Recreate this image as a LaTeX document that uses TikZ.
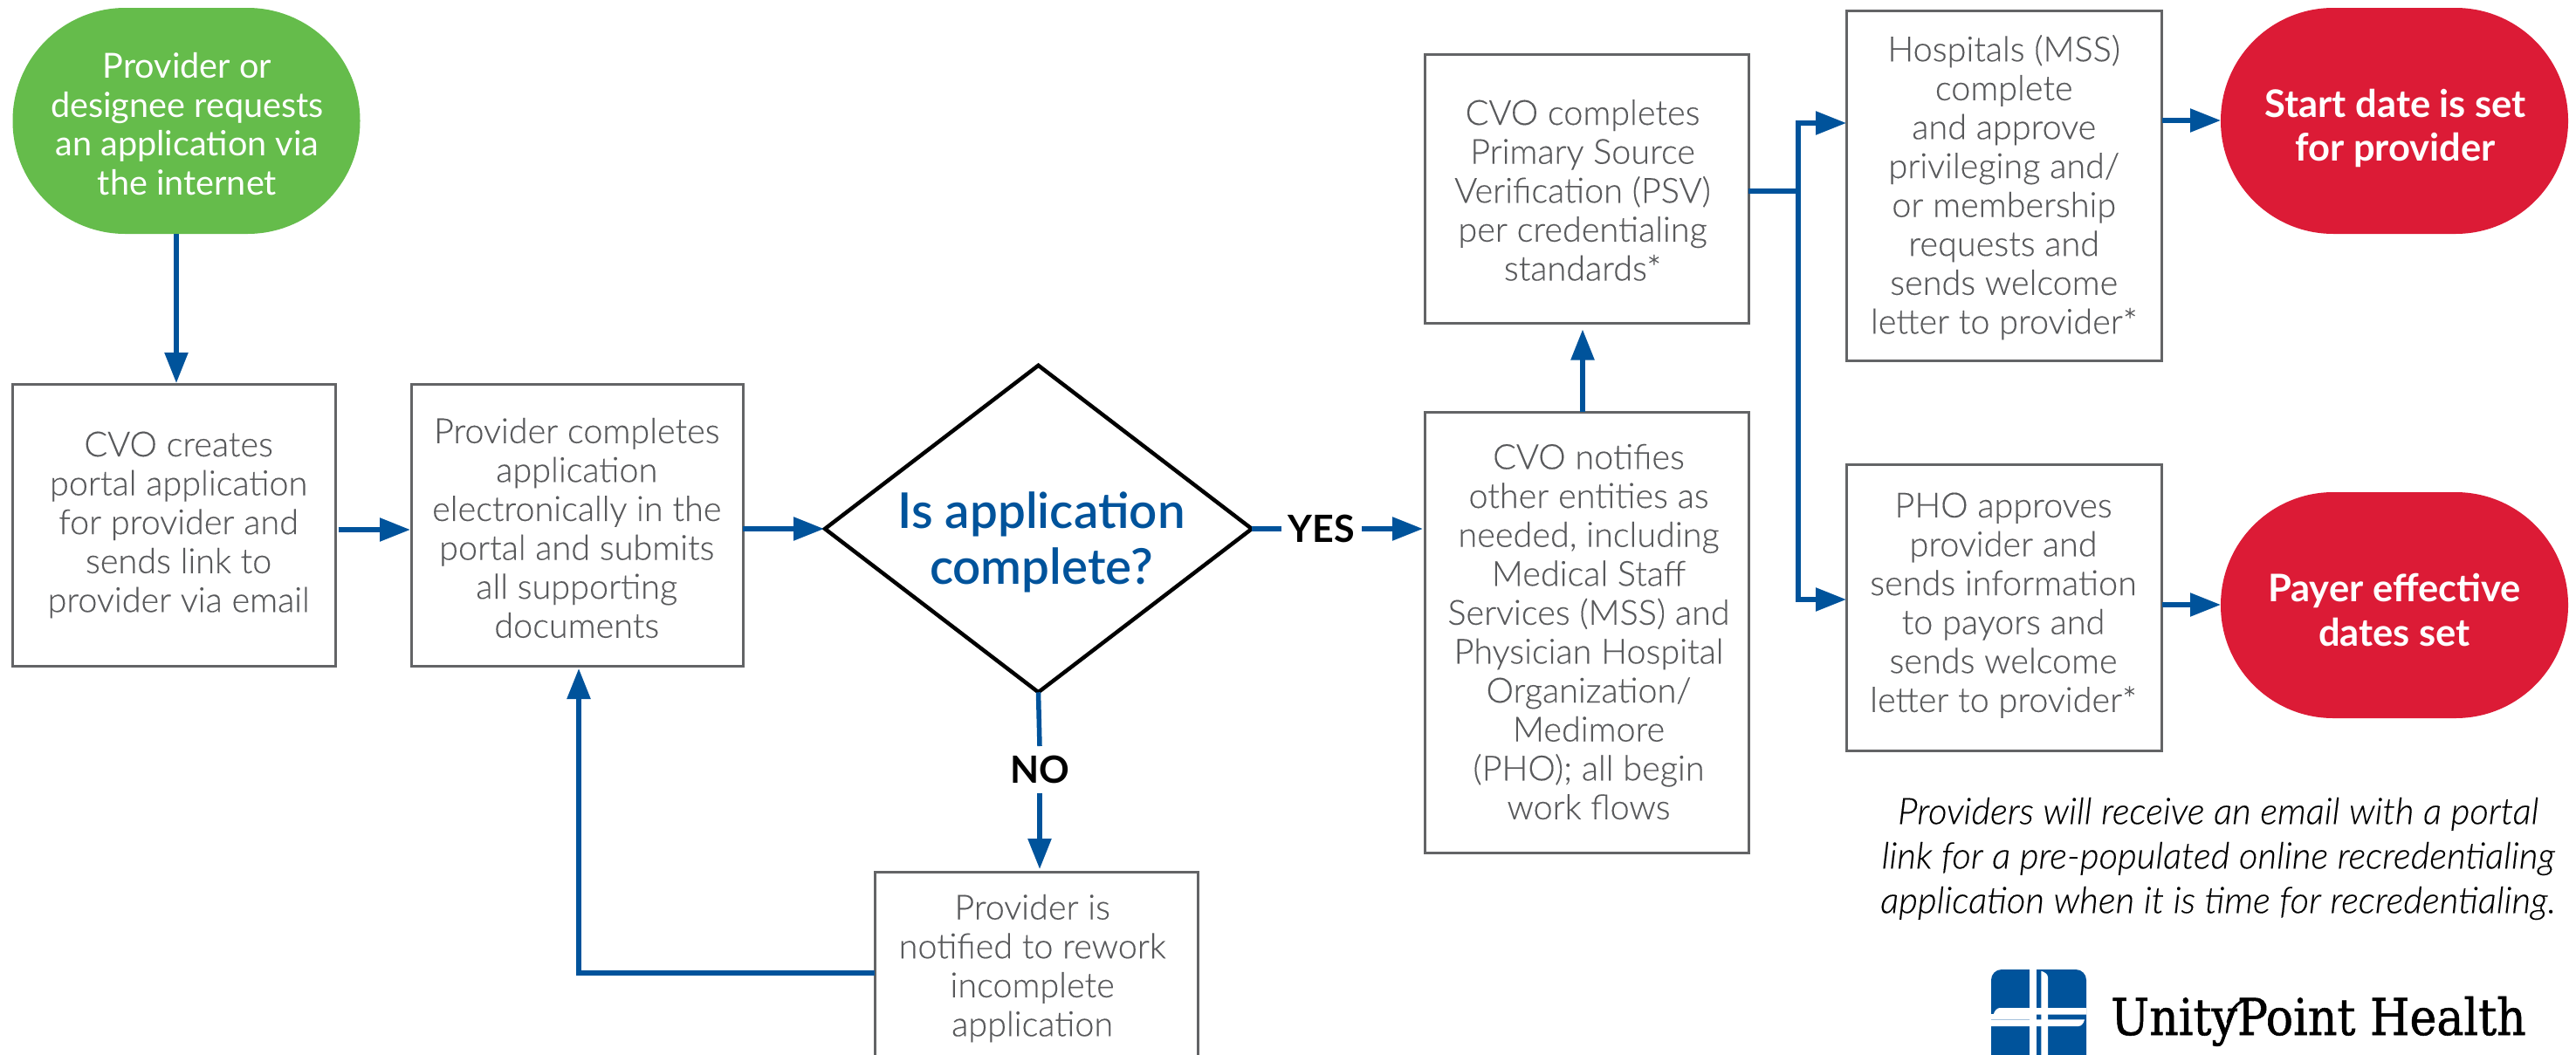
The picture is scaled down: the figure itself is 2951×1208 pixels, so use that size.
\documentclass[tikz,border=0pt]{standalone}
\usepackage{fontspec}
\setmainfont{Lato Light}[FakeBold=0.25]
\newfontfamily\medf{Lato}
\newfontfamily\boldf{Lato Bold}
\newfontfamily\semif{Lato Semibold}
\newfontfamily\italf{Lato Light Italic}[FakeBold=0.2]
\newfontfamily\logof{DejaVu Serif Condensed}[FakeBold=1.0]
\usetikzlibrary{arrows.meta,calc,shapes.geometric}
\definecolor{fblue}{HTML}{00539B}
\definecolor{fgray}{HTML}{58595B}
\definecolor{fline}{HTML}{636466}
\definecolor{fgreen}{HTML}{65BC4B}
\definecolor{fred}{HTML}{DC1B36}
\begin{document}
\begin{tikzpicture}[x=1pt,y=-1pt,
  bx/.style={draw=fline,line width=3pt,inner sep=0pt,outer sep=0pt},
  txt/.style={align=center,text=fgray,font=\fontsize{39.6}{44.6}\selectfont,inner sep=0pt},
  wht/.style={align=center,text=white,font=\medf\fontsize{39.6}{44.6}\selectfont,inner sep=0pt},
  hd/.style={align=center,text=white,font=\boldf\fontsize{43.5}{50.5}\selectfont,inner sep=0pt},
  dec/.style={text=black,font=\boldf\fontsize{43}{46}\selectfont,inner sep=0pt,outer sep=0pt},
  link/.style={draw=fblue,line width=5.5pt},
  arr/.style={link,-{Triangle[length=35pt,width=26pt]}},
  pill/.style={rounded corners=129pt,inner sep=0pt,outer sep=0pt,minimum width=398pt,minimum height=259pt}]
\useasboundingbox (0,0) rectangle (2951,1208);
\clip (0,0) rectangle (2951,1208);
\fill[white] (0,0) rectangle (2951,1208);
% terminals
\node[fill=fgreen,pill] (g) at (213.5,138.5) {};
\node[fill=fred,pill] (st) at (2743,138.5) {};
\node[fill=fred,pill] (pa) at (2743,693.5) {};
% process boxes
\node[bx,minimum width=370pt,minimum height=323pt] (b1) at (199.5,601.5) {};
\node[bx,minimum width=380pt,minimum height=323pt] (b2) at (661,601.5) {};
\node[bx,minimum width=370pt,minimum height=232pt] (rw) at (1187,1115) {};
\node[bx,minimum width=371pt,minimum height=505pt] (no) at (1817.5,724.5) {};
\node[bx,minimum width=371pt,minimum height=308.5pt] (ps) at (1817.5,216.25) {};
\node[bx,minimum width=361.5pt,minimum height=401pt] (ho) at (2296,212.5) {};
\node[bx,minimum width=361.5pt,minimum height=328pt] (ph) at (2296,696) {};
% decision
\node[diamond,draw=black,line width=4.5pt,inner sep=0pt,outer sep=0pt,minimum width=489pt,minimum height=374.5pt] (d) at (1189.5,606) {};
% texts
\node[wht] (gt) at (214.4,142) {Provider or\\designee requests\\an application via\\the internet};
\node[hd] (stt) at (2744,147) {Start date is set\\for provider};
\node[hd] (pat) at (2743,699) {Payer effective\\dates set};
\node[txt] (b1t) at (204.6,601.5) {CVO creates\\portal application\\for provider and\\sends link to\\provider via email};
\node[txt] (b2t) at (660.7,605) {Provider completes\\application\\electronically in the\\portal and submits\\all supporting\\documents};
\node[txt] (rwt) at (1182.6,1109.6) {Provider is\\notified to rework\\incomplete\\application};
\node[txt] (not) at (1820,724) {CVO notifies\\other entities as\\needed, including\\Medical Staff\\Services (MSS) and\\Physician Hospital\\Organization/\\Medimore\\(PHO); all begin\\work flows};
\node[txt] (pst) at (1813,218) {CVO completes\\Primary Source\\Verification (PSV)\\per credentialing\\standards*};
\node[txt] (hot) at (2295.7,214.7) {Hospitals (MSS)\\complete\\and approve\\privileging and/\\or membership\\requests and\\sends welcome\\letter to provider*};
\node[txt] (pht) at (2295,693.7) {PHO approves\\provider and\\sends information\\to payors and\\sends welcome\\letter to provider*};
\node[align=center,text=fblue,font=\semif\fontsize{56.5}{64}\selectfont,inner sep=0pt] (dt) at (1193,621) {Is application\\complete?};
\node[dec,minimum width=92pt] (yes) at (1514,606) {YES};
\node[dec,minimum height=54pt] (nn) at (1191,882) {NO};
\node[align=center,text=black,font=\italf\fontsize{42}{51}\selectfont,inner sep=0pt] (note) at (2541,984) {Providers will receive an email with a portal\\link for a pre-populated online recredentialing\\application when it is time for recredentialing.};
% connectors
\coordinate (c1) at (202,440);
\coordinate (c2) at (663,763);
\coordinate (c3) at (2060,219);
\coordinate (c4) at (2115,141);
\coordinate (c5) at (2115,687);
\coordinate (c6) at (2477,138);
\coordinate (c7) at (2477,693);
\draw[arr,shorten >=1pt] (g.south -| c1) -- (c1);
\draw[arr,shorten >=1pt,shorten <=3pt] (b1.east |- b1.east) ++(0,5.5) -- (b2.west |- 0,607);
\draw[arr,shorten >=1pt] (b2.east |- 0,606) -- (d.west);
\draw[link] (d.east) -- (yes.west);
\draw[arr,shorten >=2pt] (yes.east) -- (no.west |- yes.east);
\draw[link] (d.south) -- (nn.north);
\draw[arr,shorten >=3pt] (nn.south) -- (rw.north -| nn.south);
\draw[arr,shorten >=3pt] (rw.west) -| (c2);
\draw[arr,shorten >=7pt] (no.north -| 1813,0) -- (ps.south -| 1813,0);
\draw[link] (ps.east |- c3) -- (c3);
\draw[arr] (c3) |- (c4);
\draw[arr] (c3) |- (c5);
\draw[arr] (c6) -- (st.west |- c6);
\draw[arr] (c7) -- (pa.west |- c7);
% logo
\fill[fblue,rounded corners=12pt] (2281,1111) rectangle (2390,1240);
\fill[white] (2325,1111) rectangle (2332.7,1240);
\fill[white] (2338.3,1112.7) .. controls (2342,1114) and (2346,1116) .. (2346,1120) -- (2346,1240) -- (2338.3,1240) -- cycle;
\fill[white] (2283.5,1162.7) .. controls (2285,1158) and (2288,1155) .. (2291,1155) -- (2390,1155) -- (2390,1162.7) -- cycle;
\fill[white] (2325,1162.7) rectangle (2332.7,1168.3);
\fill[white] (2281,1162) rectangle (2325,1168.3);
\fill[white] (2281,1168.3) -- (2388,1168.3) .. controls (2387,1173) and (2384,1176) .. (2381,1176) -- (2281,1176) -- cycle;
\node[anchor=base west,inner sep=0pt,text=black,font=\logof\fontsize{58}{58}\selectfont] (lg) at (2418,1186) {UnityPoint Health};
\draw[black,line width=3pt] (2552,1172) .. controls (2556,1155) and (2566,1143) .. (2582,1146);
\end{tikzpicture}
\end{document}
